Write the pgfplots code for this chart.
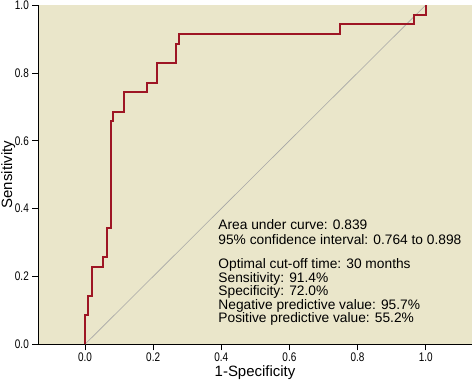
\documentclass[border=0pt]{standalone}
\usepackage{fontspec}
\setmainfont{Liberation Sans}
\newfontfamily\narrowfont[FakeStretch=0.8]{Liberation Sans}
\usepackage{pgfplots}
\pgfplotsset{compat=1.18}
\definecolor{bg}{RGB}{234,230,202}
\definecolor{roc}{RGB}{158,22,36}
\begin{document}
\begin{tikzpicture}
\begin{axis}[
 scale only axis, width=433bp, height=339bp,
 xmin=-0.137, xmax=1.135, ymin=0, ymax=1,
 axis x line=bottom, axis y line=left,
 axis line style={-, black, line width=0.9pt},
 axis background/.style={fill=bg},
 xtick={0,0.2,0.4,0.6,0.8,1}, xticklabels={0.0,0.2,0.4,0.6,0.8,1.0},
 ytick={0,0.2,0.4,0.6,0.8,1}, yticklabels={0.0,0.2,0.4,0.6,0.8,1.0},
 tick align=outside, major tick length=6bp,
 tick style={black, line width=0.7pt},
 ticklabel style={font=\narrowfont\fontsize{12.5}{14}\selectfont},
 xticklabel style={yshift=1bp},
 xlabel={1-Specificity}, ylabel={Sensitivity},
 label style={font=\fontsize{15}{17}\selectfont},
 xlabel style={at={(axis description cs:0.5,-0.0944)}, anchor=base},
 ylabel style={at={(axis description cs:-0.0693,0.5)}, anchor=center},
 clip=false,
]
\addplot[gray!70, line width=0.6pt] coordinates {(0,0) (1,1)};
\addplot[roc, line width=2bp] coordinates {
(0,0) (0,0.0857) (0.0083,0.0857) (0.0083,0.1429) (0.02,0.1429) (0.02,0.2286)
(0.0515,0.2286) (0.0515,0.2571) (0.064,0.2571) (0.064,0.3429) (0.075,0.3429)
(0.075,0.6571) (0.083,0.6571) (0.083,0.6857) (0.115,0.6857) (0.115,0.7429)
(0.182,0.7429) (0.182,0.7714) (0.212,0.7714) (0.212,0.8286) (0.266,0.8286)
(0.266,0.8857) (0.277,0.8857) (0.277,0.9143) (0.749,0.9143) (0.749,0.9429)
(0.967,0.9429) (0.967,0.9714) (1,0.9714) (1,1)};
\begin{scope}[every node/.style={anchor=base west, inner sep=0pt, font=\fontsize{13.8}{15}\selectfont}]
\node at (axis cs:0.391,0.339) {Area under curve: 0.839};
\node at (axis cs:0.391,0.295) {95\% confidence interval: 0.764 to 0.898};
\node at (axis cs:0.391,0.222) {Optimal cut-off time: 30 months};
\node at (axis cs:0.391,0.182) {Sensitivity: 91.4\%};
\node at (axis cs:0.391,0.143) {Specificity: 72.0\%};
\node at (axis cs:0.391,0.104) {Negative predictive value: 95.7\%};
\node at (axis cs:0.391,0.064) {Positive predictive value: 55.2\%};
\end{scope}
\end{axis}
\pgfresetboundingbox
\path (-38.3bp,-36bp) rectangle (434.3bp,344bp);
\end{tikzpicture}
\end{document}
